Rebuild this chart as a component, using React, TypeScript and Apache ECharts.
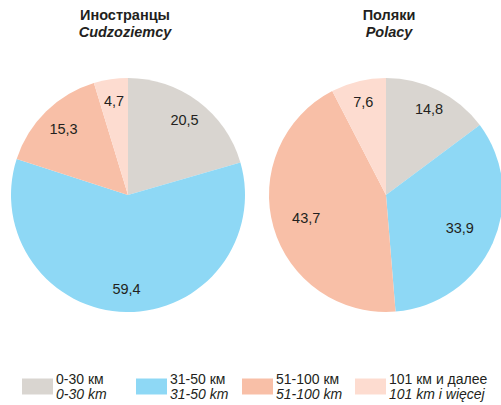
import React, { useEffect, useRef } from "react";
import * as echarts from "echarts";

const categoriesRu = ["0-30 км", "31-50 км", "51-100 км", "101 км и далее"];
const categoriesPl = ["0-30 km", "31-50 km", "51-100 km", "101 km i więcej"];
const foreignersValues = [20.5, 59.4, 15.3, 4.7];
const polesValues = [14.8, 33.9, 43.7, 7.6];
const colors = ["#d9d5d0", "#8ed8f5", "#f8bfa7", "#fddcd0"];
const titlesRu = ["Иностранцы", "Поляки"];
const titlesPl = ["Cudzoziemcy", "Polacy"];

const fmt = (v: number) => v.toFixed(1).replace(".", ",");

export default function App() {
  const ref = useRef<HTMLDivElement>(null);
  useEffect(() => {
    if (!ref.current) return;
    const chart = echarts.init(ref.current, null, { renderer: "svg" });
    const R = 117;
    const centers = [[128, 195], [386, 195]];
    const labelRadii = [[91, 91, 89, 92], [93, 78, 80, 93]];
    const series: any[] = [];
    [foreignersValues, polesValues].forEach((vals, k) => {
      series.push({
        type: "pie",
        center: centers[k],
        radius: [0, R],
        startAngle: 90,
        clockwise: true,
        silent: true,
        label: { show: false },
        labelLine: { show: false },
        data: vals.map((v, i) => ({ name: categoriesRu[i], value: v, itemStyle: { color: colors[i] } })),
      });
      vals.forEach((_, j) => {
        const r = labelRadii[k][j];
        series.push({
          type: "pie",
          center: centers[k],
          radius: [2 * r - R, R],
          startAngle: 90,
          clockwise: true,
          silent: true,
          legendHoverLink: false,
          itemStyle: { color: "rgba(0,0,0,0)" },
          labelLine: { show: false },
          data: vals.map((v, i) => ({
            name: categoriesRu[i],
            value: v,
            itemStyle: { color: "rgba(0,0,0,0)" },
            label: {
              show: i === j,
              position: "inside",
              formatter: (p: any) => fmt(p.value),
              fontFamily: "'Liberation Sans', Arial, sans-serif",
              fontSize: 14.5,
              color: "#231f20",
            },
          })),
        });
      });
    });
    const legendLefts = [22, 136, 242, 355];
    const legends = categoriesRu.map((c, i) => ({
      data: [{ name: c, itemStyle: { color: colors[i] } }],
      left: legendLefts[i],
      top: 372,
      padding: 0,
      orient: "horizontal",
      itemWidth: 31,
      itemHeight: 16,
      selectedMode: false,
      icon: "rect",
      formatter: (n: string) => `{a|${n}}\n{b|${categoriesPl[categoriesRu.indexOf(n)]}}`,
      textStyle: {
        padding: [0, 0, 0, -2],
        rich: {
          a: { fontFamily: "'Liberation Sans', Arial, sans-serif", fontSize: 14, lineHeight: 15, color: "#231f20" },
          b: { fontFamily: "'Liberation Sans', Arial, sans-serif", fontSize: 14, lineHeight: 15, fontStyle: "italic", color: "#231f20" },
        },
      },
    }));
    const titleCenters = [125, 389];
    const titles = titlesRu.map((t, i) => ({
      text: `{a|${t}}\n{b|${titlesPl[i]}}`,
      left: titleCenters[i],
      top: 6,
      textAlign: "center",
      padding: 0,
      textStyle: {
        rich: {
          a: { fontFamily: "'Liberation Sans', Arial, sans-serif", fontSize: 14.5, fontWeight: "bold", lineHeight: 17, color: "#231f20" },
          b: { fontFamily: "'Liberation Sans', Arial, sans-serif", fontSize: 14.5, fontWeight: "bold", fontStyle: "italic", lineHeight: 17, color: "#231f20" },
        },
      },
    }));
    chart.setOption({
      animation: false,
      backgroundColor: "#ffffff",
      title: titles,
      legend: legends,
      series,
    });
    return () => chart.dispose();
  }, []);
  return <div ref={ref} style={{ position: "absolute", left: 0, top: 0, width: 501, height: 405 }} />;
}
